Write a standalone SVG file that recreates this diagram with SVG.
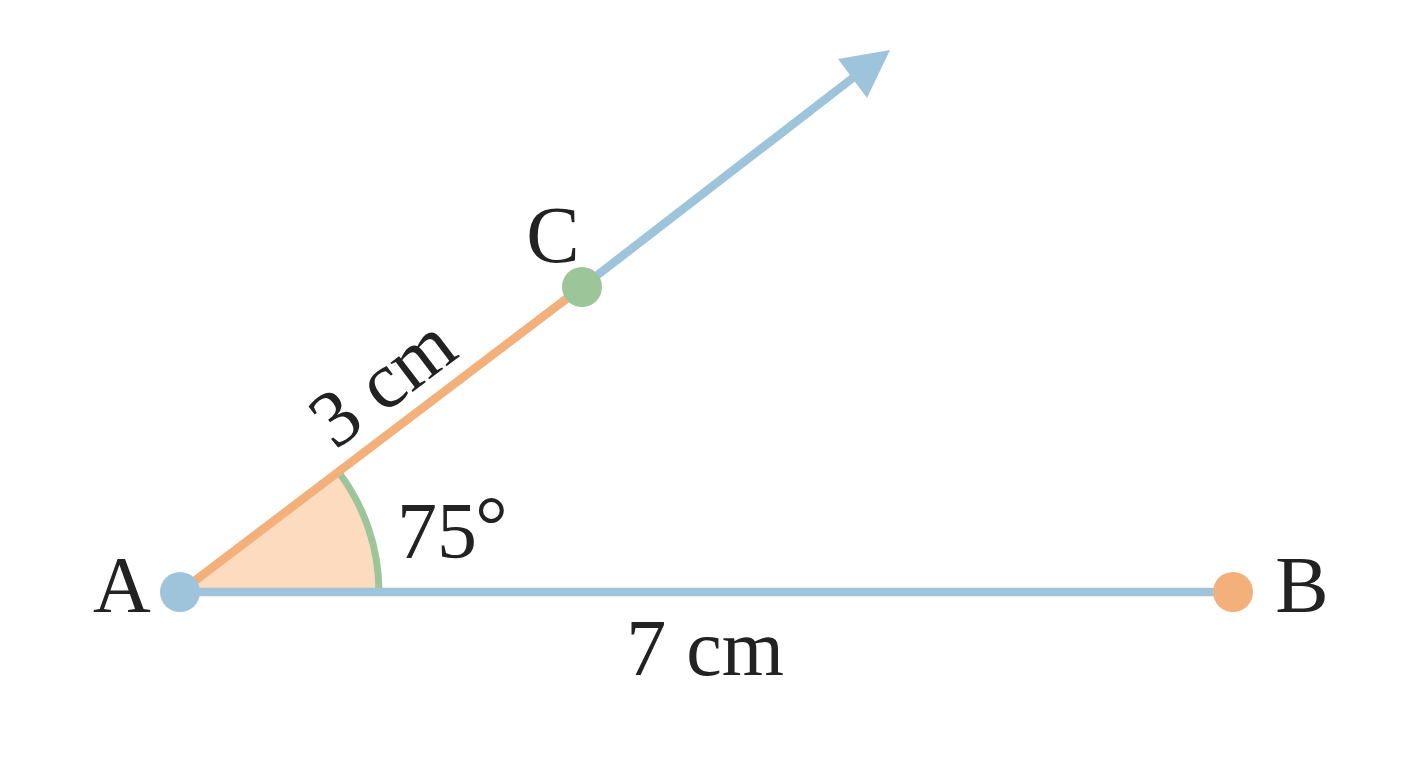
<svg xmlns="http://www.w3.org/2000/svg" width="1408" height="768" viewBox="0 0 1408 768">
<style>
.lbl{font-family:"Liberation Serif","Times New Roman",serif;font-size:80px;fill:#222222}
.blue{stroke:#9EC4DC;stroke-width:8.5;fill:none}
.orange{stroke:#F4B07A;stroke-width:8.5;fill:none}
</style>
<rect width="1408" height="768" fill="#ffffff"/>
<g id="angle">
<path d="M180,592 L379,592 A199,199 0 0 0 338.5,472 Z" fill="#FCDBBF"/>
<path d="M379,592 A199,199 0 0 0 338.5,472" fill="none" stroke="#9DC59A" stroke-width="7"/>
</g>
<g id="connectors">
<line class="blue" x1="180" y1="592" x2="1233" y2="592"/>
<line class="orange" x1="180" y1="592" x2="582" y2="287"/>
<line class="blue" x1="582" y1="287" x2="854" y2="77"/>
<polygon points="890,50 838,59 867,98" fill="#9EC4DC"/>
</g>
<g id="A">
<circle cx="180" cy="592" r="20" fill="#9EC4DC"/>
<text class="lbl" x="122" y="612" text-anchor="middle">A</text>
</g>
<g id="B">
<circle cx="1233" cy="592" r="20" fill="#F4B07A"/>
<text class="lbl" x="1302" y="612" text-anchor="middle">B</text>
</g>
<g id="C">
<circle cx="582" cy="287" r="20" fill="#9DC59A"/>
<text class="lbl" x="553" y="262" text-anchor="middle">C</text>
</g>
<g id="labels">
<text class="lbl" x="705" y="675" text-anchor="middle">7 cm</text>
<text class="lbl" x="0" y="0" text-anchor="middle" transform="translate(398,403) rotate(-37.2)">3 cm</text>
<text class="lbl" x="397" y="558">75<tspan font-size="82" dx="-2" dy="-5">°</tspan></text>
</g>
</svg>
